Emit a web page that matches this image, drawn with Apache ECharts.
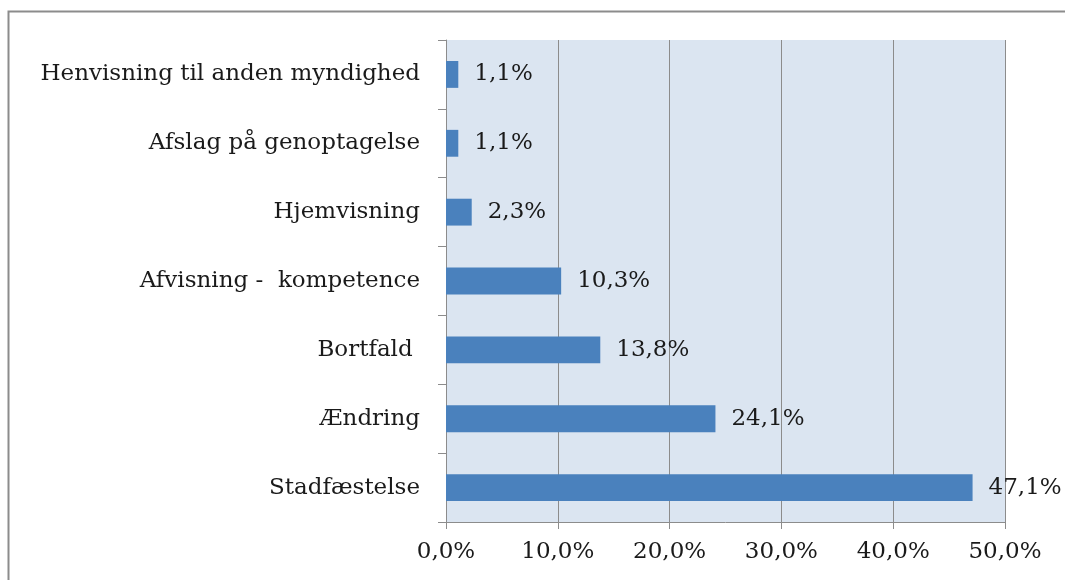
<!DOCTYPE html>
<html lang="da">
<head>
    <meta charset="UTF-8">
    <title>Afgørelser</title>
    <script src="https://cdn.jsdelivr.net/npm/echarts@6/dist/echarts.min.js"></script>
    <style>
        html, body { margin: 0; padding: 0; background: #fff; }
        #chart { width: 1065px; height: 580px; }
    </style>
</head>
<body>
<div id="chart"></div>
<script>
    // data, nederst til øverst
    const categories = ['Stadfæstelse', 'Ændring', 'Bortfald ', 'Afvisning -  kompetence', 'Hjemvisning', 'Afslag på genoptagelse', 'Henvisning til anden myndighed'];
    const values = [47.1, 24.1, 13.8, 10.3, 2.3, 1.1, 1.1];
    const ticks = [0, 10, 20, 30, 40, 50];

    const fmt = v => v.toFixed(1).replace('.', ',') + '%';
    const font = '"DejaVu Serif", "Liberation Serif", serif';

    const chart = echarts.init(document.getElementById('chart'));
    chart.setOption({
        animation: false,
        textStyle: { fontFamily: font },
        graphic: [{
            type: 'rect',
            shape: { x: 8.5, y: 11.5, width: 1100, height: 600 },
            style: { fill: 'none', stroke: '#8c8c8c', lineWidth: 2 },
            silent: true
        }],
        grid: {
            left: 446, right: 60, top: 40, bottom: 58,
            show: true, backgroundColor: '#dbe5f1', borderWidth: 0
        },
        xAxis: {
            type: 'value',
            min: ticks[0], max: ticks[ticks.length - 1], interval: 10,
            axisLine: { show: true, lineStyle: { color: '#8c8c8c', width: 1 } },
            axisTick: { show: true, length: 7, lineStyle: { color: '#8c8c8c' } },
            splitLine: { show: true, lineStyle: { color: '#8c8c8c', width: 1 } },
            axisLabel: { formatter: fmt, color: '#1a1a1a', fontSize: 23, margin: 19, fontFamily: font }
        },
        yAxis: {
            type: 'category',
            data: categories,
            axisLine: { show: true, lineStyle: { color: '#8c8c8c', width: 1 } },
            axisTick: { show: true, length: 8, inside: false, lineStyle: { color: '#8c8c8c' } },
            axisLabel: { color: '#1a1a1a', fontSize: 23, margin: 26, fontFamily: font }
        },
        series: [{
            type: 'bar',
            data: values,
            barWidth: '39%',
            itemStyle: { color: '#4a81bd' },
            label: {
                show: true, position: 'right', distance: 16,
                formatter: p => fmt(p.value),
                color: '#1a1a1a', fontSize: 23, fontFamily: font
            }
        }]
    });
</script>
</body>
</html>
